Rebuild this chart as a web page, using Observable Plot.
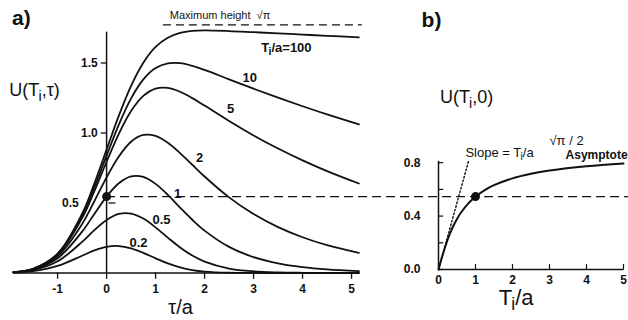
<!DOCTYPE html>
<html><head><meta charset="utf-8">
<script src="https://cdn.jsdelivr.net/npm/d3@7"></script>
<script src="https://cdn.jsdelivr.net/npm/@observablehq/plot@0.6"></script>
<style>
body{margin:0;background:#fff;}
#wrap{position:relative;width:628px;height:320px;overflow:hidden;background:#fff;}
#wrap svg{position:absolute;left:0;top:0;}
</style></head><body><div id="wrap"></div>
<script>
// ---- Panel a data: U(Ti, tau) for several Ti/a ----
const tau   = [-1.9,-1.5,-1,-0.5,-0.25,0,0.25,0.5,0.75,1,1.25,1.5,1.75,2,2.5,3,3.5,4,4.5,5.15];
const u02   = [0.003,0.0128,0.0507,0.1235,0.1611,0.1868,0.1925,0.1763,0.1439,0.1049,0.0683,0.0399,0.021,0.01,0.0017,0.0002,0,0,0,0];
const u05   = [0.0044,0.0197,0.0833,0.222,0.3062,0.3789,0.422,0.4249,0.389,0.326,0.2524,0.1823,0.1245,0.0813,0.0319,0.0119,0.0044,0.0016,0.0006,0.0002];
const u1    = [0.0052,0.0239,0.1049,0.2951,0.422,0.5456,0.6414,0.6902,0.686,0.6365,0.5579,0.4678,0.3802,0.3028,0.1864,0.1133,0.0687,0.0417,0.0253,0.0132];
const u2    = [0.0058,0.0266,0.1199,0.3499,0.5126,0.6827,0.8325,0.9377,0.9858,0.979,0.9305,0.8568,0.7731,0.6895,0.5402,0.421,0.3279,0.2554,0.1989,0.1437];
const u5    = [0.0061,0.0286,0.131,0.3919,0.5843,0.7945,0.9945,1.1569,1.2651,1.3169,1.3218,1.2946,1.2493,1.1958,1.0854,0.9825,0.889,0.8043,0.7279,0.6391];
const u10   = [0.0063,0.0293,0.1351,0.4081,0.6116,0.8383,1.0595,1.2469,1.3829,1.4638,1.4977,1.4986,1.4796,1.4506,1.3835,1.3164,1.2521,1.191,1.1329,1.0617];
const u100  = [0.0064,0.03,0.139,0.4231,0.6394,0.8812,1.1237,1.337,1.5025,1.615,1.6803,1.7159,1.73,1.7332,1.7283,1.72,1.7114,1.7029,1.6944,1.6834];
const ratios = [0.2,0.5,1,2,5,10,100];
const curveLabels = ["0.2","0.5","1","2","5","10","T_i/a=100"];
const xTicksA = [-1,0,1,2,3,4,5];
const yTicksA = [0.5,1.0,1.5];
const maxHeight = 1.772;   // sqrt(pi)
const uDot = 0.546;        // U(Ti=a, 0)

// ---- Panel b data: U(Ti, 0) vs Ti/a ----
const Tb = [0,0.05,0.1,0.2,0.3,0.4,0.5,0.6,0.8,1,1.25,1.5,2,2.5,3,4,5];
const Ub = [0,0.0497,0.0981,0.1868,0.2628,0.326,0.3789,0.4229,0.4934,0.5456,0.5945,0.6313,0.6827,0.7169,0.7414,0.7738,0.7944];
const slopeT = [0,0.82];
const slopeU = [0,0.82];
const xTicksB = [0,1,2,3,4,5];
const yTicksB = [0,0.4,0.8];
const yMinorB = [0.2,0.6];

const FONT = "'Liberation Sans', Arimo, Helvetica, Arial, sans-serif";
const INK = "#111";
const seriesU = [u02,u05,u1,u2,u5,u10,u100];
const rowsA = ratios.flatMap((r,k) => tau.map((t,i) => ({tau:t, u:seriesU[k][i], T:r})));
const rowsB = Tb.map((t,i) => ({T:t, u:Ub[i]}));
const slopeRows = slopeT.map((t,i) => ({T:t, u:slopeU[i]}));

// annotation positions (data units)
const labelPosA = [[0.65,0.218],[1.12,0.382],[1.45,0.568],[1.90,0.825],[2.53,1.175],[2.92,1.396],[3.67,1.61]];
const labelsA = curveLabels.map((s,i) => ({text:s, x:labelPosA[i][0], y:labelPosA[i][1]}));
const yLabelX = [-0.57,-0.18,-0.18];

const A = Plot.plot({
  width:628, height:320,
  marginLeft:13, marginRight:269.6, marginTop:20.5, marginBottom:47.5,
  x:{domain:[-1.9,5.15], axis:null},
  y:{domain:[0,1.8], axis:null},
  style:{fontFamily:FONT, background:"transparent", overflow:"visible", color:INK},
  marks:[
    Plot.lineY(rowsA, {x:"tau", y:"u", z:"T", curve:"catmull-rom", stroke:INK, strokeWidth:1.8}),
    Plot.ruleY([0], {x1:-1.9, x2:5.15, stroke:INK, strokeWidth:1.6}),
    Plot.ruleX([0], {y1:0, y2:1.72, stroke:INK, strokeWidth:1.5}),
    Plot.ruleY([1.0,1.5], {x1:-0.11, x2:0, stroke:INK, strokeWidth:1.3}),
    Plot.ruleY([0.5], {x1:0.05, x2:0.19, stroke:INK, strokeWidth:1.3}),
    Plot.ruleX(xTicksA, {y1:0, y2:-0.045, stroke:INK, strokeWidth:1.3}),
    Plot.text(xTicksA, {x:d=>d, y:0, dy:16, text:d=>String(d), fontSize:12, fontWeight:"bold", fill:INK}),
    Plot.text(yTicksA, {x:(d,i)=>yLabelX[i], y:d=>d, text:d=>d.toFixed(1), textAnchor:"end", fontSize:12, fontWeight:"bold", fill:INK}),
    Plot.ruleY([uDot], {x1:0, x2:10.7, stroke:INK, strokeWidth:1.3, strokeDasharray:"9,5"}),
    Plot.ruleY([maxHeight], {x1:1.16, x2:5.22, stroke:INK, strokeWidth:1.2, strokeDasharray:"8,5"}),
    Plot.text(["Maximum height  √π"], {x:1.29, y:1.839, textAnchor:"start", fontSize:11, fill:INK}),
    Plot.dot([uDot], {x:0, y:d=>d, r:4.5, fill:INK, stroke:"none"}),
    Plot.text(labelsA, {x:"x", y:"y", text:"text", fontSize:13, fontWeight:"bold", fill:INK}),
    Plot.text(["U(T_i,τ)"], {x:-1.47, y:1.304, fontSize:18, fill:INK}),
    Plot.text(["a)"], {x:-1.74, y:1.818, fontSize:21, fontWeight:"bold", fill:INK}),
    Plot.text(["τ/a"], {x:1.51, y:-0.246, fontSize:20, fill:INK})
  ]
});

const B = Plot.plot({
  width:628, height:320,
  marginLeft:438, marginRight:5, marginTop:155.5, marginBottom:51,
  x:{domain:[0,5], axis:null},
  y:{domain:[0,0.85], axis:null},
  style:{fontFamily:FONT, background:"transparent", overflow:"visible", color:INK},
  marks:[
    Plot.ruleX([0], {y1:0, y2:0.81, stroke:INK, strokeWidth:1.5}),
    Plot.ruleY([0], {x1:0, x2:5.02, stroke:INK, strokeWidth:1.5}),
    Plot.ruleY(yTicksB.concat(yMinorB), {x1:0, x2:0.14, stroke:INK, strokeWidth:1.2}),
    Plot.ruleX(xTicksB.slice(1), {y1:0, y2:0.037, stroke:INK, strokeWidth:1.2}),
    Plot.text(yTicksB, {x:0, y:d=>d, dx:-18, text:d=>d.toFixed(1), textAnchor:"end", fontSize:12, fontWeight:"bold", fill:INK}),
    Plot.text(xTicksB, {x:d=>d, y:0, dy:11, text:d=>String(d), fontSize:12, fontWeight:"bold", fill:INK}),
    Plot.line(slopeRows, {x:"T", y:"u", stroke:INK, strokeWidth:1.4, strokeDasharray:"1.6,2.2"}),
    Plot.line(rowsB, {x:"T", y:"u", curve:"catmull-rom", stroke:INK, strokeWidth:2}),
    Plot.dot([uDot], {x:1, y:d=>d, r:4.5, fill:INK, stroke:"none"}),
    Plot.text(["U(T_i,0)"], {x:0.76, y:1.288, fontSize:18, fill:INK}),
    Plot.text(["b)"], {x:-0.19, y:1.865, fontSize:21, fontWeight:"bold", fill:INK}),
    Plot.text(["Slope = T_i/a"], {x:1.65, y:0.876, fontSize:13, fill:INK}),
    Plot.text(["√π / 2"], {x:3.46, y:0.966, fontSize:13, fill:INK}),
    Plot.text(["Asymptote"], {x:5.11, y:0.854, textAnchor:"end", fontSize:12, fontWeight:"bold", fill:INK}),
    Plot.text(["T_i/a"], {x:2.1, y:-0.21, fontSize:22, fill:INK})
  ]
});

const NS = "http://www.w3.org/2000/svg";
function subscripts(svg){
  svg.querySelectorAll("text, tspan").forEach(el => {
    if (el.childNodes.length === 1 && el.firstChild.nodeType === 3 && el.textContent.includes("_i")) {
      const parts = el.textContent.split("_i");
      el.textContent = "";
      parts.forEach((p,k) => {
        if (k > 0) {
          const s = document.createElementNS(NS, "tspan");
          s.setAttribute("font-size", "0.8em");
          s.setAttribute("dy", "0.3em");
          s.setAttribute("dx", "-0.06em");
          s.textContent = "i";
          el.appendChild(s);
        }
        const t = document.createElementNS(NS, "tspan");
        if (k > 0) t.setAttribute("dy", "-0.24em");
        t.textContent = p;
        el.appendChild(t);
      });
    }
  });
}
subscripts(A); subscripts(B);
const wrap = document.getElementById("wrap");
wrap.appendChild(A);
wrap.appendChild(B);
</script></body></html>
